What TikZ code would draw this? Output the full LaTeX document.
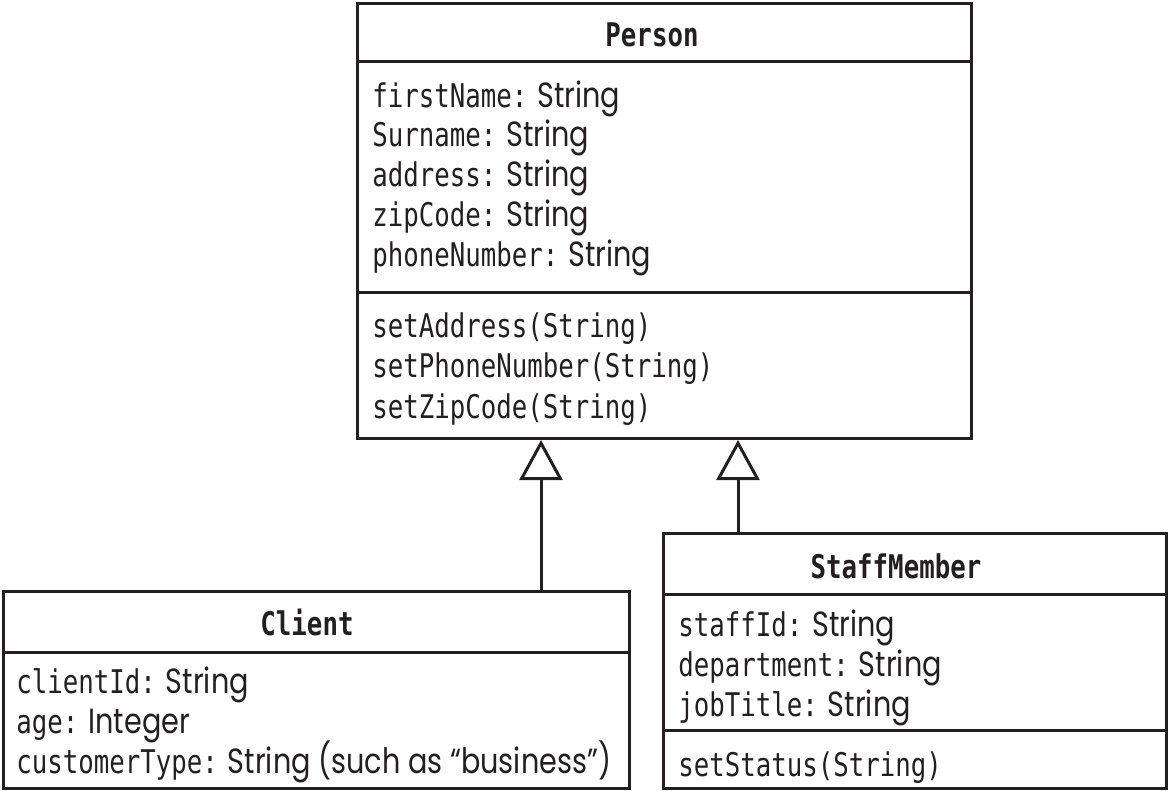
\documentclass[tikz,border=0pt]{standalone}
\usepackage{fontspec}
\setmainfont{Poppins}[FakeStretch=0.82]
\newfontfamily\monof{DejaVu Sans Mono}[FakeStretch=0.79]
\usetikzlibrary{arrows.meta}
\definecolor{ink}{HTML}{231F20}
\newcommand{\sn}[1]{{\rmfamily\fontsize{17.5}{20}\selectfont\hspace{5pt}#1}}
\begin{document}
\begin{tikzpicture}[x=0.5pt,y=-0.5pt,
  box/.style={draw=ink, line width=1.5pt, inner sep=0, anchor=north west},
  mono/.style={font=\monof\fontsize{16.3}{18}\selectfont, anchor=base west, inner sep=0, text=ink},
  ttl/.style={font=\monof\bfseries\fontsize{16.3}{18}\selectfont, anchor=base, inner sep=0, text=ink},
  gen/.style={draw=ink, line width=1.5pt, -{Triangle[open, length=20pt, width=21.5pt, line width=1.5pt]}},
  sep/.style={draw=ink, line width=1.5pt}]
\useasboundingbox (0,0) rectangle (1168,791);
% Person
\node[box, minimum width=307pt, minimum height=217.5pt] (person) at (356,2) {};
\coordinate (py1) at (0,62);
\coordinate (py2) at (0,293);
\draw[sep] (person.west |- py1) -- (person.east |- py1);
\draw[sep] (person.west |- py2) -- (person.east |- py2);
\node[ttl] (pt) at (652,47) {Person};
\node[mono] (pa1) at (372,108) {firstName:\sn{String}};
\node[mono] (pa2) at (372,147) {Surname:\sn{String}};
\node[mono] (pa3) at (372,187) {address:\sn{String}};
\node[mono] (pa4) at (372,227) {zipCode:\sn{String}};
\node[mono] (pa5) at (372,267) {phoneNumber:\sn{String}};
\node[mono] (pm1) at (372,338) {setAddress(String)};
\node[mono] (pm2) at (372,378) {setPhoneNumber(String)};
\node[mono] (pm3) at (372,418) {setZipCode(String)};
% Client
\node[box, minimum width=313pt, minimum height=98.5pt] (client) at (2,590) {};
\coordinate (cy1) at (0,652);
\draw[sep] (client.west |- cy1) -- (client.east |- cy1);
\node[ttl] (ct) at (307,635) {Client};
\node[mono] (ca1) at (16,693) {clientId:\sn{String}};
\node[mono] (ca2) at (16,733) {age:\sn{Integer}};
\node[mono] (ca3) at (16,773) {customerType:\sn{String (such as “business”)}};
% StaffMember
\node[box, minimum width=251.5pt, minimum height=127.5pt] (staff) at (662,532) {};
\coordinate (sy1) at (0,594);
\coordinate (sy2) at (0,730);
\draw[sep] (staff.west |- sy1) -- (staff.east |- sy1);
\draw[sep] (staff.west |- sy2) -- (staff.east |- sy2);
\node[ttl] (st) at (896,578) {StaffMember};
\node[mono] (sa1) at (678,636) {staffId:\sn{String}};
\node[mono] (sa2) at (678,676) {department:\sn{String}};
\node[mono] (sa3) at (678,716) {jobTitle:\sn{String}};
\node[mono] (sm1) at (678,776) {setStatus(String)};
% generalisations
\coordinate (gx1) at (541,0);
\coordinate (gx2) at (738,0);
\draw[gen] (client.north -| gx1) -- (person.south -| gx1);
\draw[gen] (staff.north -| gx2) -- (person.south -| gx2);
\end{tikzpicture}
\end{document}
